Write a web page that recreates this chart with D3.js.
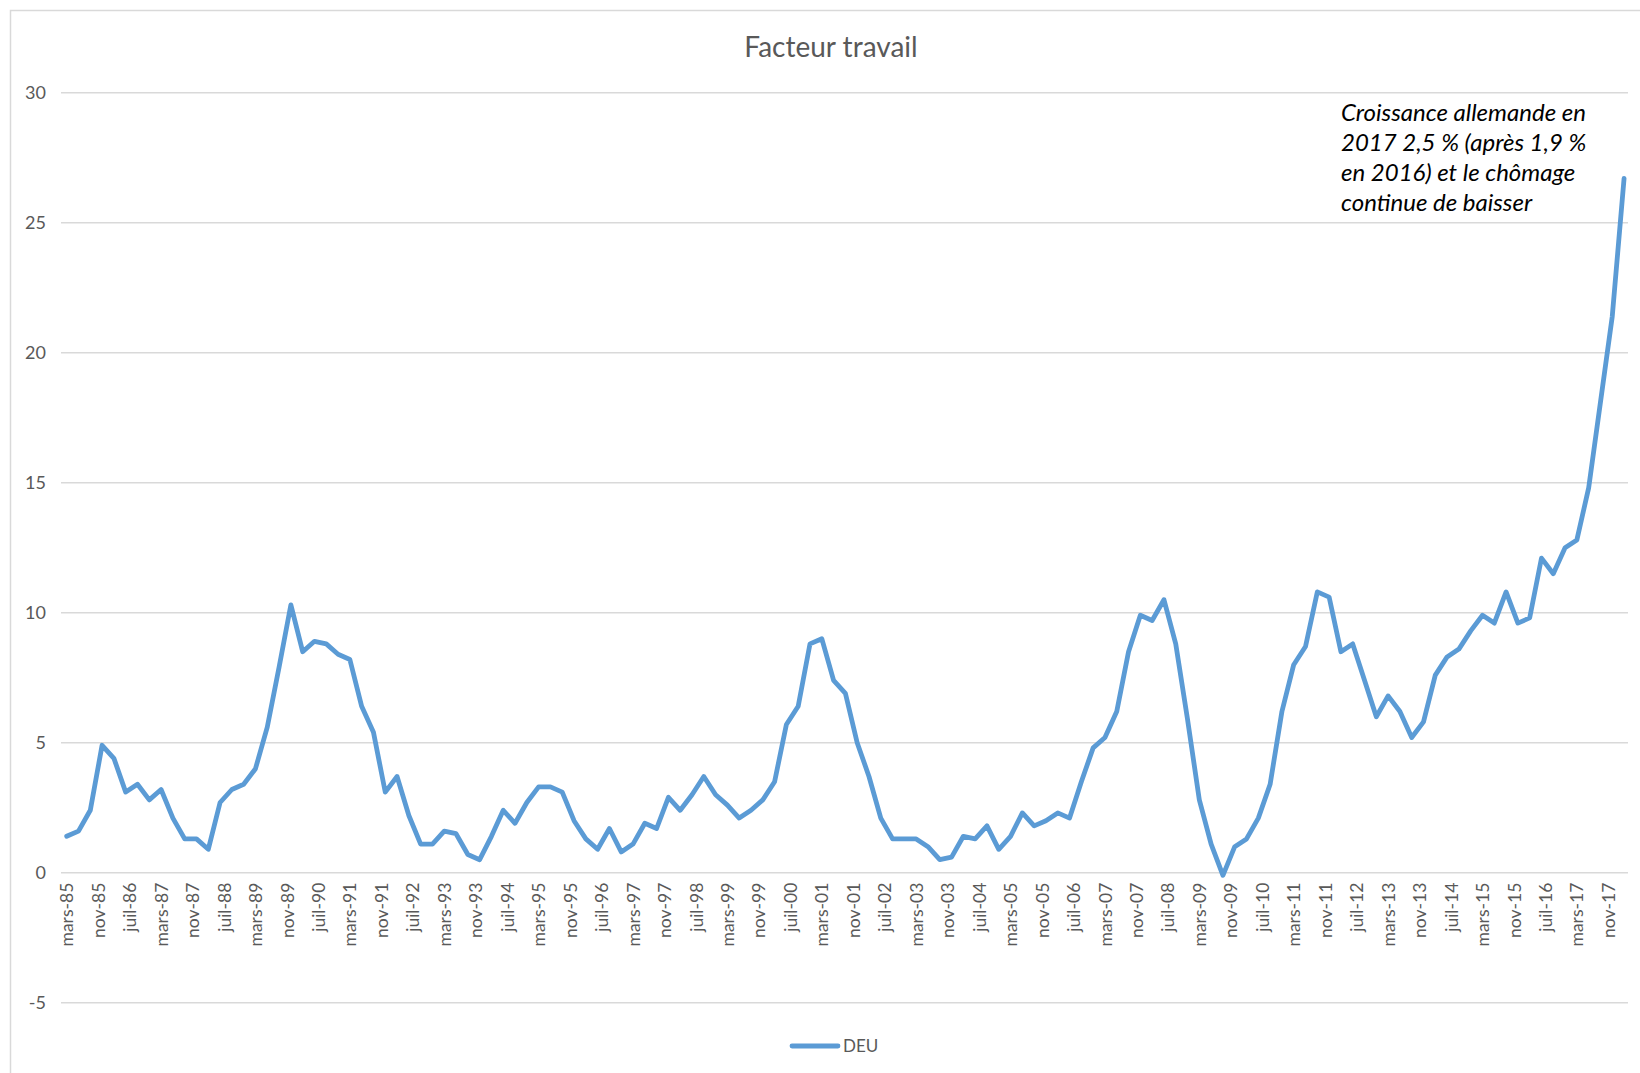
<!DOCTYPE html>
<html lang="fr">
<head>
<meta charset="utf-8">
<title>Facteur travail</title>
<script src="https://cdn.jsdelivr.net/npm/d3@7"></script>
<style>
  html, body { margin: 0; padding: 0; background: #ffffff; }
  svg { display: block; font-family: Lato, "Open Sans", sans-serif; }
</style>
</head>
<body>
<svg id="chart" width="1640" height="1073"></svg>
<script>
// Quarterly series for Germany, first quarter = March 1985, one value every 3 months
const seriesName = "DEU";
const stepMonths = 3;
const deuValues = [
  1.4, 1.6, 2.4, 4.9, 4.4, 3.1, 3.4, 2.8, 3.2, 2.1, 1.3, 1.3, 0.9, 2.7, 3.2, 3.4,
  4.0, 5.6, 7.9, 10.3, 8.5, 8.9, 8.8, 8.4, 8.2, 6.4, 5.4, 3.1, 3.7, 2.2, 1.1, 1.1,
  1.6, 1.5, 0.7, 0.5, 1.4, 2.4, 1.9, 2.7, 3.3, 3.3, 3.1, 2.0, 1.3, 0.9, 1.7, 0.8,
  1.1, 1.9, 1.7, 2.9, 2.4, 3.0, 3.7, 3.0, 2.6, 2.1, 2.4, 2.8, 3.5, 5.7, 6.4, 8.8,
  9.0, 7.4, 6.9, 5.0, 3.7, 2.1, 1.3, 1.3, 1.3, 1.0, 0.5, 0.6, 1.4, 1.3, 1.8, 0.9,
  1.4, 2.3, 1.8, 2.0, 2.3, 2.1, 3.5, 4.8, 5.2, 6.2, 8.5, 9.9, 9.7, 10.5, 8.8, 5.9,
  2.8, 1.1, -0.1, 1.0, 1.3, 2.1, 3.4, 6.2, 8.0, 8.7, 10.8, 10.6, 8.5, 8.8, 7.4, 6.0,
  6.8, 6.2, 5.2, 5.8, 7.6, 8.3, 8.6, 9.3, 9.9, 9.6, 10.8, 9.6, 9.8, 12.1, 11.5, 12.5,
  12.8, 14.8, 18.1, 21.4, 26.7
];

// Axis labels, one every 8 months starting at mars-85
const xTickLabels = [
  "mars-85", "nov-85", "juil-86", "mars-87", "nov-87", "juil-88", "mars-89", "nov-89",
  "juil-90", "mars-91", "nov-91", "juil-92", "mars-93", "nov-93", "juil-94", "mars-95",
  "nov-95", "juil-96", "mars-97", "nov-97", "juil-98", "mars-99", "nov-99", "juil-00",
  "mars-01", "nov-01", "juil-02", "mars-03", "nov-03", "juil-04", "mars-05", "nov-05",
  "juil-06", "mars-07", "nov-07", "juil-08", "mars-09", "nov-09", "juil-10", "mars-11",
  "nov-11", "juil-12", "mars-13", "nov-13", "juil-14", "mars-15", "nov-15", "juil-16",
  "mars-17", "nov-17"
];
const xTickStep = 8;
const yTicks = [-5, 0, 5, 10, 15, 20, 25, 30];
const yTickLabels = ["-5", "0", "5", "10", "15", "20", "25", "30"];

const title = "Facteur travail";
const noteLines = [
  "Croissance allemande en",
  "2017 2,5 % (après 1,9 %",
  "en 2016) et le chômage",
  "continue de baisser"
];

// ---- layout ----
const plot = { left: 61, right: 1628, top: 92.7, bottom: 1002.7 };
const lineColor = "#5b9bd5";
const gridColor = "#d9d9d9";
const textColor = "#595959";

const svg = d3.select("#chart");

// chart frame
svg.append("rect")
  .attr("x", 10.5).attr("y", 10.5)
  .attr("width", 1700).attr("height", 1200)
  .attr("fill", "#ffffff")
  .attr("stroke", gridColor)
  .attr("stroke-width", 1.5);

// month-offset data (date axis with month base unit)
const data = deuValues.map((v, i) => ({ m: i * stepMonths, v }));
const lastMonth = d3.max(data, d => d.m);

const x = d3.scaleLinear()
  .domain([-1.45, lastMonth + 1.0])
  .range([plot.left, plot.right]);

const y = d3.scaleLinear()
  .domain([d3.min(yTicks), d3.max(yTicks)])
  .range([plot.bottom, plot.top]);

// horizontal gridlines
svg.append("g")
  .selectAll("line")
  .data(yTicks)
  .join("line")
  .attr("x1", plot.left).attr("x2", plot.right)
  .attr("y1", d => y(d)).attr("y2", d => y(d))
  .attr("stroke", gridColor)
  .attr("stroke-width", 1.5);

// y axis labels
const yAxis = d3.axisLeft(y)
  .tickValues(yTicks)
  .tickSize(0)
  .tickPadding(0)
  .tickFormat((d, i) => yTickLabels[i]);
const yG = svg.append("g")
  .attr("transform", `translate(46,0)`)
  .call(yAxis);
yG.select(".domain").remove();
yG.selectAll("text")
  .attr("font-family", "Lato, sans-serif")
  .attr("font-size", 18)
  .attr("fill", textColor)
  .attr("dy", "0.34em");

// x axis labels (rotated)
const xTickValues = xTickLabels.map((_, i) => i * xTickStep);
const xAxis = d3.axisBottom(x)
  .tickValues(xTickValues)
  .tickSize(0)
  .tickFormat((d, i) => xTickLabels[i]);
const xG = svg.append("g")
  .attr("transform", `translate(0,${y(0)})`)
  .call(xAxis);
xG.select(".domain").remove();
xG.selectAll("text")
  .attr("font-family", "Lato, sans-serif")
  .attr("font-size", 17.5)
  .attr("fill", textColor)
  .attr("text-anchor", "end")
  .attr("transform", "rotate(-90)")
  .attr("x", -10)
  .attr("y", 0)
  .attr("dy", "0.35em");

// series line
const line = d3.line()
  .x(d => x(d.m))
  .y(d => y(d.v));

svg.append("path")
  .datum(data)
  .attr("d", line)
  .attr("fill", "none")
  .attr("stroke", lineColor)
  .attr("stroke-width", 4.8)
  .attr("stroke-linejoin", "round")
  .attr("stroke-linecap", "round");

// title
svg.append("text")
  .attr("x", 831).attr("y", 57)
  .attr("text-anchor", "middle")
  .attr("font-family", "Lato, sans-serif")
  .attr("font-size", 28)
  .attr("fill", textColor)
  .text(title);

// annotation
const note = svg.append("text")
  .attr("font-family", "Lato, sans-serif")
  .attr("font-style", "italic")
  .attr("font-size", 24)
  .attr("fill", "#000000");
noteLines.forEach((t, i) => {
  note.append("tspan")
    .attr("x", 1341)
    .attr("y", 121 + i * 30)
    .text(t);
});

// legend
const legend = svg.append("g").attr("transform", "translate(792,1046)");
legend.append("line")
  .attr("x1", 0).attr("x2", 46)
  .attr("y1", 0).attr("y2", 0)
  .attr("stroke", lineColor)
  .attr("stroke-width", 4.8)
  .attr("stroke-linecap", "round");
legend.append("text")
  .attr("x", 51).attr("y", 0)
  .attr("dy", "0.35em")
  .attr("font-family", "Lato, sans-serif")
  .attr("font-size", 17)
  .attr("fill", textColor)
  .text(seriesName);
</script>
</body>
</html>
